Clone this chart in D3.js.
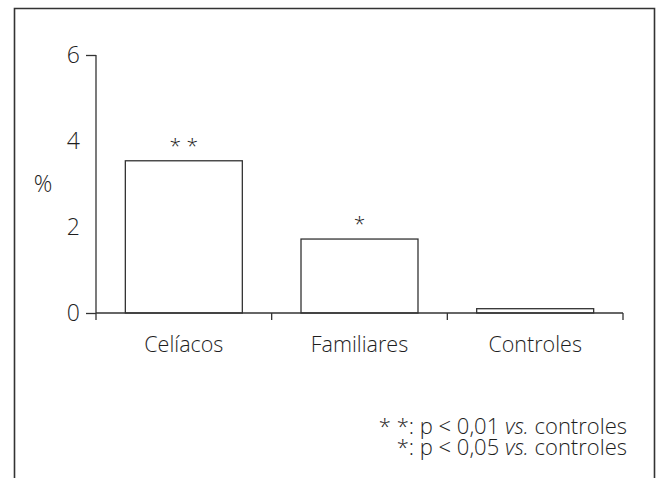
<!DOCTYPE html>
<html>
<head>
<meta charset="utf-8">
<script src="https://cdn.jsdelivr.net/npm/d3@7"></script>
<style>
  html, body { margin: 0; padding: 0; background: #fff; }
  svg { display: block; }
  text { font-family: "Open Sans", "DejaVu Sans", sans-serif; font-weight: 300; fill: #1e1e1e; }
</style>
</head>
<body>
<svg id="chart" width="659" height="478"></svg>
<script>
const categories = ["Celíacos", "Familiares", "Controles"];
const values = [3.54, 1.72, 0.1];
const significance = ["* *", "*", ""];
const yTicks = [0, 2, 4, 6];
const yTicksWithMarks = [0, 6];
const yLabel = "%";
const footnotes = [
  { mark: "* *", pre: ": p < 0,01 ", it: "vs.", post: " controles" },
  { mark: "*", pre: ": p < 0,05 ", it: "vs.", post: " controles" }
];

const svg = d3.select("#chart");
const ink = "#333";
const textInk = "#1e1e1e";

// frame (open at the bottom)
svg.append("path")
  .attr("d", "M14.5,478 L14.5,8.5 L654.5,8.5 L654.5,478")
  .attr("fill", "none").attr("stroke", ink).attr("stroke-width", 1.6);

const x = d3.scaleBand().domain(categories).range([96, 623]).paddingInner(0.334).paddingOuter(0.167);
const y = d3.scaleLinear().domain([0, 6]).range([313, 55]);

// bars
svg.append("g").selectAll("rect").data(categories).join("rect")
  .attr("x", d => x(d))
  .attr("y", (d, i) => y(values[i]))
  .attr("width", x.bandwidth())
  .attr("height", (d, i) => y(0) - y(values[i]))
  .attr("fill", "#fff").attr("stroke", ink).attr("stroke-width", 1.3);

// y axis
const yAxis = svg.append("g").attr("transform", "translate(96,0)")
  .call(d3.axisLeft(y).tickValues(yTicks).tickFormat(d3.format("d")).tickSize(10).tickPadding(6));
yAxis.select(".domain").attr("stroke", ink).attr("stroke-width", 1.3).attr("d", `M0,${y(6)}V${y(0)}`);
yAxis.selectAll(".tick line").attr("stroke", ink).attr("stroke-width", 1.3)
  .attr("display", d => yTicksWithMarks.includes(d) ? null : "none");
yAxis.selectAll(".tick text").attr("font-size", 23).style("fill", textInk)
  .attr("font-family", "Open Sans, sans-serif").attr("font-weight", 300);

// x axis with ticks at band boundaries
const step = x.step();
const boundaries = d3.range(categories.length + 1).map(i => 96 + i * step);
const xAxis = svg.append("g").attr("transform", `translate(0,${y(0)})`);
xAxis.append("line").attr("x1", 96).attr("x2", 623).attr("stroke", ink).attr("stroke-width", 1.3);
xAxis.selectAll("line.tk").data(boundaries).join("line").attr("class", "tk")
  .attr("x1", d => d).attr("x2", d => d).attr("y1", 0).attr("y2", 7)
  .attr("stroke", ink).attr("stroke-width", 1.3);
xAxis.selectAll("text").data(categories).join("text")
  .attr("x", d => x(d) + x.bandwidth() / 2).attr("y", 39)
  .attr("text-anchor", "middle").attr("font-size", 21.5).text(d => d);

// y label
svg.append("text").attr("x", 43).attr("y", 192).attr("text-anchor", "middle")
  .attr("font-size", 23).text(yLabel);

// significance marks
svg.append("g").selectAll("text").data(categories).join("text")
  .attr("x", d => x(d) + x.bandwidth() / 2)
  .attr("y", (d, i) => y(values[i]) - 8)
  .attr("text-anchor", "middle").attr("font-size", 21)
  .text((d, i) => significance[i]);

// footnotes
const fn = svg.append("g");
footnotes.forEach((f, i) => {
  const t = fn.append("text").attr("x", 627).attr("y", 434 + i * 21)
    .attr("text-anchor", "end").attr("font-size", 22);
  t.append("tspan").text(f.mark + f.pre);
  t.append("tspan").attr("font-style", "italic").text(f.it);
  t.append("tspan").text(f.post);
});
</script>
</body>
</html>
